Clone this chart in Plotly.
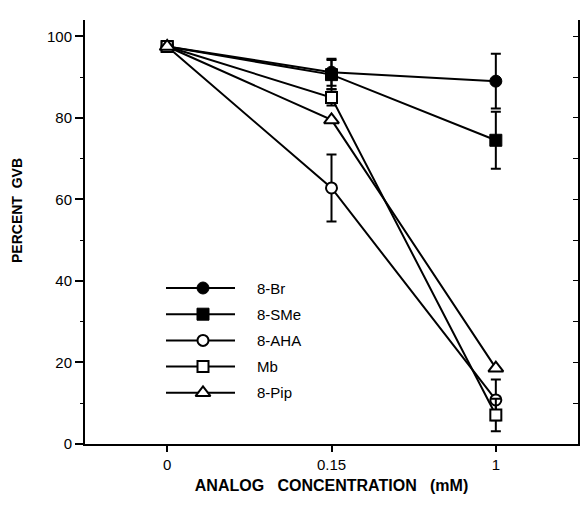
import plotly.graph_objects as go

# ---------------- data ----------------
conc_labels = ["0", "0.15", "1"]
series_names = ["8-Br", "8-SMe", "8-AHA", "Mb", "8-Pip"]
br_vals = [97.5, 91.2, 89.0]
br_err = [0, 3.3, 6.7]
sme_vals = [97.5, 90.6, 74.5]
sme_err = [0, 3.6, 7.0]
aha_vals = [97.5, 62.8, 10.8]
aha_err = [0, 8.2, 5.0]
mb_vals = [97.5, 85.0, 7.1]
mb_err = [0, 2.0, 4.0]
pip_vals = [97.5, 79.5, 18.6]
pip_err = [0, 0, 0]
y_ticks = [0, 20, 40, 60, 80, 100]

symbols = ["circle", "square", "circle-open", "square-open", "triangle-up-open"]
values = [br_vals, sme_vals, aha_vals, mb_vals, pip_vals]
errors = [br_err, sme_err, aha_err, mb_err, pip_err]

FONT = "Liberation Sans, Arial, Helvetica, sans-serif"
BLACK = "#000000"

# plot area geometry (px)
W, H = 583, 506
ML, MR, MT, MB = 85, 5, 20, 62
PW = W - ML - MR
PH = H - MT - MB

fig = go.Figure()

def marker_for(sym):
    if sym.endswith("-open"):
        return dict(symbol=sym.replace("-open", ""), size=11 if "triangle" not in sym else 13,
                    color="white", line=dict(color=BLACK, width=2))
    return dict(symbol=sym, size=12, color=BLACK, line=dict(color=BLACK, width=1))

for name, sym, vals, err in zip(series_names, symbols, values, errors):
    fig.add_trace(go.Scatter(
        x=conc_labels, y=vals, mode="lines+markers", name=name,
        line=dict(color=BLACK, width=2),
        marker=marker_for(sym),
        error_y=dict(type="data", array=err, visible=True, color=BLACK,
                     thickness=2, width=5),
        showlegend=False, cliponaxis=False,
    ))

# invisible trace carrying the right-hand axis
fig.add_trace(go.Scatter(x=conc_labels, y=br_vals, yaxis="y3", mode="markers",
                         marker=dict(opacity=0), showlegend=False, hoverinfo="skip"))

# ---------------- custom legend (pixel-unit overlay axes) ----------------
leg_line_x0, leg_line_x1, leg_marker_x, leg_text_x = 81, 150, 118, 170
leg_top, leg_gap = 156, 26.2
for i, (name, sym) in enumerate(zip(series_names, symbols)):
    yy = leg_top - i * leg_gap
    fig.add_trace(go.Scatter(
        x=[leg_line_x0, leg_marker_x, leg_line_x1], y=[yy, yy, yy],
        xaxis="x2", yaxis="y2", mode="lines+markers",
        line=dict(color=BLACK, width=2),
        marker=dict(marker_for(sym), opacity=1),
        selectedpoints=[1], unselected=dict(marker=dict(opacity=0)),
        showlegend=False, hoverinfo="skip",
    ))
    fig.add_annotation(x=leg_text_x, y=yy, xref="x2", yref="y2", text=name,
                       showarrow=False, xanchor="left", yanchor="middle",
                       font=dict(family=FONT, size=15, color=BLACK))

# y-axis title as annotation (sits above the axis centre in the reference)
fig.add_annotation(x=-(ML - 17) / PW, y=(H - MB - 211) / PH, xref="paper", yref="paper",
                   text="PERCENT&nbsp;&nbsp;GVB", textangle=-90, showarrow=False,
                   xanchor="center", yanchor="middle",
                   font=dict(family=FONT, size=14, weight="bold", color=BLACK))

fig.update_layout(
    width=W, height=H,
    margin=dict(l=ML, r=MR, t=MT, b=MB),
    paper_bgcolor="white", plot_bgcolor="white",
    font=dict(family=FONT, color=BLACK),
    xaxis=dict(
        type="category", range=[-0.5, 2.5],
        showgrid=False, zeroline=False,
        showline=True, linecolor=BLACK, linewidth=2,
        ticks="outside", ticklen=6, tickwidth=2, tickcolor=BLACK,
        tickfont=dict(family=FONT, size=15),
        title=dict(text="ANALOG&nbsp;&nbsp;&nbsp;CONCENTRATION&nbsp;&nbsp;&nbsp;(mM)",
                   font=dict(family=FONT, size=16, weight="bold"), standoff=8),
    ),
    yaxis=dict(
        range=[0, 104], tickvals=y_ticks,
        showgrid=False, zeroline=False,
        showline=True, linecolor=BLACK, linewidth=2,
        ticks="outside", ticklen=8, tickwidth=2, tickcolor=BLACK,
        minor=dict(dtick=10, ticks="outside", ticklen=3, tickwidth=1, tickcolor=BLACK),
        tickfont=dict(family=FONT, size=15),
    ),
    yaxis3=dict(
        overlaying="y", side="right", range=[0, 104], dtick=10,
        showgrid=False, zeroline=False, showticklabels=False,
        showline=True, linecolor=BLACK, linewidth=2,
        ticks="inside", ticklen=5, tickwidth=1, tickcolor=BLACK,
    ),
    xaxis2=dict(overlaying="x", range=[0, PW], visible=False),
    yaxis2=dict(overlaying="y", range=[0, PH], visible=False),
)

fig.write_html("out.html")
